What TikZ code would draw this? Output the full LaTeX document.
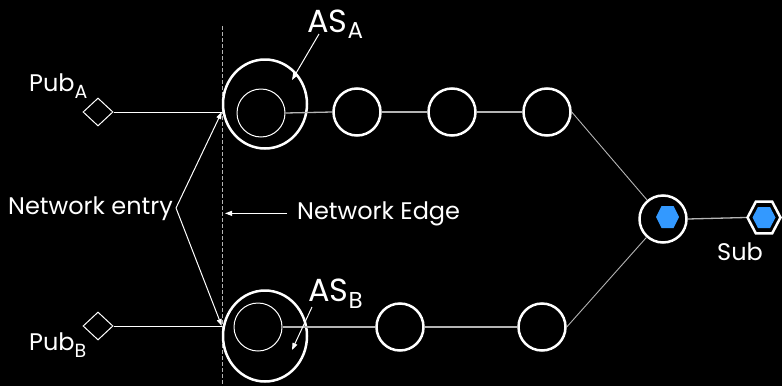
\documentclass[tikz,border=0pt]{standalone}
\usepackage{fontspec}
\setmainfont{Poppins}
\usetikzlibrary{shapes.geometric,arrows.meta}
\definecolor{hexblue}{HTML}{3399FF}
\definecolor{linkgray}{HTML}{B4B4B4}
% lowered subscript: size, drop
\newcommand\lowsub[3]{\raisebox{-#2pt}{\fontsize{#1}{#1}\selectfont #3}}
\begin{document}
\begin{tikzpicture}[x=1pt,y=-1pt,
  router/.style={circle,draw=white,line width=2.5pt,minimum size=47pt,inner sep=0pt},
  asring/.style={ellipse,draw=white,line width=2.5pt,inner sep=0pt},
  asinner/.style={circle,draw=white,line width=1pt,minimum size=48pt,inner sep=0pt},
  pubbox/.style={diamond,draw=white,line width=1pt,minimum width=30pt,minimum height=28pt,inner sep=0pt},
  hexslot/.style={rectangle,draw=none,inner sep=0pt,minimum width=#1},
  txt/.style={text=white,font=\fontsize{24}{26}\selectfont,inner sep=0pt},
  astxt/.style={text=white,font=\fontsize{32}{34}\selectfont,inner sep=0pt},
  link/.style={draw=linkgray,line width=1.3pt},
  wlink/.style={draw=white,line width=1pt},
  pointer/.style={draw=white,line width=1pt,-{Triangle[length=7pt,width=5pt]}},
]
\fill[black] (0,0) rectangle (782,386);
\useasboundingbox (0,0) rectangle (782,386);

% network edge
\coordinate (edgetop) at (222,26);
\coordinate (edgebot) at (222,386);
\draw[draw=linkgray,line width=1pt,dash pattern=on 3.5pt off 2.5pt] (edgetop) -- (edgebot);

% publishers
\node[pubbox] (pubA) at (98,112) {};
\node[pubbox] (pubB) at (98,326) {};
\node[txt,anchor=base west] (pubAlbl) at (29,91) {Pub\lowsub{19}{7}{A}};
\node[txt,anchor=base west] (pubBlbl) at (29,350) {Pub\lowsub{19}{7}{B}};

% access servers
\node[asring,minimum width=84pt,minimum height=89pt] (asA) at (265,104) {};
\node[asinner] (inA) at (261,113) {};
\node[asring,minimum width=84pt,minimum height=91pt] (asB) at (265,336) {};
\node[asinner] (inB) at (258,327) {};
\node[astxt,anchor=base west] (asAlbl) at (307,32) {AS\lowsub{23}{6}{A}};
\node[astxt,anchor=base west] (asBlbl) at (308,301) {AS\lowsub{23}{7}{B}};

% routers
\node[router] (a2) at (357,112) {};
\node[router] (a3) at (452,112) {};
\node[router] (a4) at (547,112) {};
\node[router] (b2) at (400,327) {};
\node[router] (b3) at (542,327) {};
\node[router] (hub) at (663,219) {};

% blue hexagon inside the hub
\node[hexslot=23pt] (hubhex) at (667.5,217) {};
\fill[hexblue] (hubhex.center) ++(-11.5,0) -- ++(5.5,-11) -- ++(12,0) -- ++(5.5,11)
  -- ++(-5.5,11) -- ++(-12,0) -- cycle;

% subscriber
\node[hexslot=36pt,minimum height=35pt] (sub) at (764,217.5) {};
\draw[white,line width=2.5pt,line join=miter] (sub.center) ++(-16.5,0) -- ++(8.3,-15.8) -- ++(16.4,0)
  -- ++(8.3,15.8) -- ++(-8.3,15.8) -- ++(-16.4,0) -- cycle;
\fill[hexblue] (sub.center) ++(-11.5,0) -- ++(5.5,-10.5) -- ++(12,0) -- ++(5.5,10.5)
  -- ++(-5.5,10.5) -- ++(-12,0) -- cycle;
\node[txt,anchor=base west] (sublbl) at (717,260) {Sub};

% links
\coordinate (entryA) at (asA.west |- pubA.east);
\coordinate (entryB) at (asB.west |- pubB.east);
\draw[wlink] (pubA.east) -- (entryA);
\draw[wlink] (pubB.east) -- (entryB);
\draw[link] (inA.east) -- (a2.west);
\draw[link] (a2.east) -- (a3.west);
\draw[link] (a3.east) -- (a4.west);
\draw[link] (inB.east) -- (b2.west);
\draw[link] (b2.east) -- (b3.west);
\draw[draw=linkgray,line width=0.9pt] (a4.east) -- (hub.130);
\draw[draw=linkgray,line width=0.9pt] (b3.east) -- (hub.228);
\draw[link] (hub.east) -- (sub.west);

% annotations
\node[txt,anchor=base west] (entrylbl) at (8,214) {Network entry};
\coordinate (fork) at (176,208);
\draw[pointer] (fork) -- (entryA);
\draw[pointer] (fork) -- (entryB);
\node[txt,anchor=base west] (edgelbl) at (297,219) {Network Edge};
\draw[pointer] ([xshift=-10pt]edgelbl.west) -- ([xshift=3pt]edgelbl.west -| edgetop);
\coordinate (asAtip) at (292,80);
\coordinate (asBtip) at (292,350);
\draw[pointer] (319,34) -- (asAtip);
\draw[pointer] (312,307) -- (asBtip);
\end{tikzpicture}
\end{document}
